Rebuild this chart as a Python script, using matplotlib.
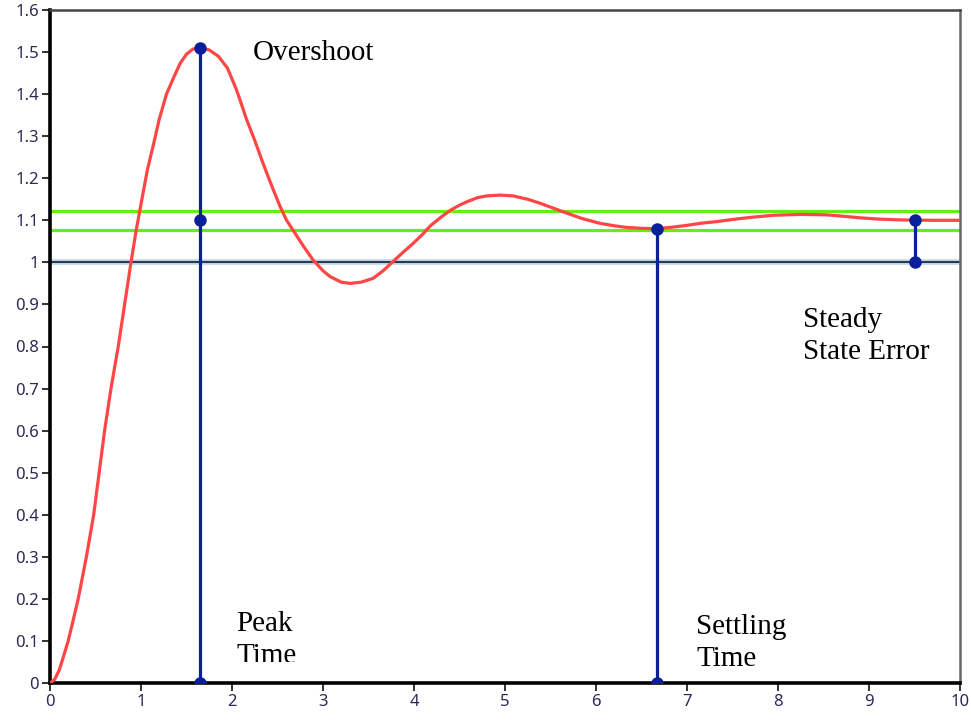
import matplotlib
matplotlib.use("Agg")
import matplotlib.pyplot as plt
from matplotlib.transforms import Bbox, TransformedBbox

# Step response samples
t_vals = [0, 0.05, 0.1, 0.13, 0.2, 0.25, 0.31, 0.4, 0.48, 0.54, 0.6, 0.67, 0.75,
          0.82, 0.89, 0.95, 1.01, 1.07, 1.14, 1.2, 1.28, 1.36, 1.43, 1.5, 1.57,
          1.65, 1.75, 1.85, 1.95, 2.05, 2.16, 2.25, 2.34, 2.44, 2.53, 2.6, 2.67,
          2.78, 2.89, 3.0, 3.08, 3.2, 3.3, 3.42, 3.55, 3.66, 3.77, 3.88, 3.99,
          4.1, 4.18, 4.3, 4.4, 4.5, 4.58, 4.7, 4.8, 4.95, 5.09, 5.25, 5.38, 5.53,
          5.68, 5.85, 6.04, 6.2, 6.34, 6.5, 6.67, 6.85, 7.0, 7.15, 7.33, 7.5,
          7.7, 7.95, 8.25, 8.53, 8.7, 8.9, 9.1, 9.34, 9.7, 10]
y_vals = [0, 0.008, 0.03, 0.05, 0.1, 0.145, 0.2, 0.3, 0.4, 0.5, 0.6, 0.7, 0.8,
          0.9, 1.0, 1.08, 1.15, 1.22, 1.283, 1.34, 1.40, 1.44, 1.473, 1.495, 1.507,
          1.51, 1.505, 1.49, 1.462, 1.41, 1.34, 1.29, 1.236, 1.18, 1.132, 1.10, 1.077,
          1.04, 1.006, 0.98, 0.966, 0.953, 0.95, 0.953, 0.962, 0.98, 1.002, 1.024, 1.045,
          1.068, 1.087, 1.108, 1.124, 1.136, 1.144, 1.154, 1.158, 1.16, 1.158, 1.15,
          1.141, 1.129, 1.117, 1.104, 1.093, 1.087, 1.083, 1.081, 1.08, 1.084, 1.088,
          1.093, 1.097, 1.102, 1.107, 1.112, 1.114, 1.113, 1.110, 1.106, 1.103, 1.101,
          1.1, 1.1]

reference = 1.0
steady_value = 1.1
band_upper = 1.122
band_lower = 1.078

peak_time = 1.65
peak_value = 1.51
settling_time = 6.67
settling_value = 1.08
sse_time = 9.5

x_ticks = list(range(0, 11))
y_ticks = [round(0.1 * i, 1) for i in range(0, 17)]
y_tick_labels = ["0" if v == 0 else ("1" if v == 1 else f"{v:g}") for v in y_ticks]

navy = "#0a1f9c"
red = "#ff4646"
green = "#66ee11"

fig = plt.figure(figsize=(9.71, 7.22), dpi=100)
ax = fig.add_axes([50 / 971, 39 / 722, 910 / 971, 673 / 722])
ax.set_xlim(0, 10)
ax.set_ylim(0, 1.6)

# reference line at 1
ax.axhline(reference, color="#bcd4ea", lw=4.0, zorder=2)
ax.axhline(reference, color="#2a3540", lw=1.4, zorder=2.1)

# tolerance band
ax.axhline(band_upper, color=green, lw=2.3, zorder=2.2)
ax.axhline(band_lower, color=green, lw=2.3, zorder=2.2)

# response curve
ax.plot(t_vals, y_vals, color=red, lw=2.3, zorder=3, solid_joinstyle="round",
        solid_capstyle="round")

# markers / measurement lines
ms = 8
ax.plot([peak_time, peak_time], [0, peak_value], color=navy, lw=2.3, zorder=4)
ax.plot([peak_time] * 3, [0, steady_value, peak_value], "o", color=navy, ms=ms, zorder=5)
ax.plot([settling_time, settling_time], [0, settling_value], color=navy, lw=2.3, zorder=4)
ax.plot([settling_time] * 2, [0, settling_value], "o", color=navy, ms=ms, zorder=5)
ax.plot([sse_time, sse_time], [reference, steady_value], color=navy, lw=2.3, zorder=4)
ax.plot([sse_time] * 2, [reference, steady_value], "o", color=navy, ms=ms, zorder=5)

# annotations
tf = dict(family="Liberation Serif", fontsize=21, color="black", zorder=6)
ax.text(2.23, 1.498, "Overshoot", ha="left", va="center", **tf)
peak_txt = ax.text(2.05, 0.171, "Peak\nTime", ha="left", va="top",
                   linespacing=1.32, **tf)
clip = TransformedBbox(Bbox.from_extents(0, 0.05, 10, 1.6), ax.transData)
peak_txt.set_clip_box(clip)
peak_txt.set_clip_on(True)
ax.text(7.1, 0.164, "Settling\nTime", ha="left", va="top", linespacing=1.28, **tf)
ax.text(8.28, 0.894, "Steady\nState Error", ha="left", va="top", linespacing=1.3, **tf)

# ticks and spines
ax.set_xticks(x_ticks)
ax.set_xticklabels([str(v) for v in x_ticks])
ax.set_yticks(y_ticks)
ax.set_yticklabels(y_tick_labels)
ax.tick_params(direction="out", length=6, width=1.3, color="#222222",
               labelsize=12, labelcolor="#2a2a55", pad=2)
for lab in ax.get_xticklabels() + ax.get_yticklabels():
    lab.set_family("Noto Sans")

ax.spines["left"].set_linewidth(2.6)
ax.spines["bottom"].set_linewidth(2.6)
ax.spines["left"].set_color("black")
ax.spines["bottom"].set_color("black")
ax.spines["top"].set_linewidth(1.8)
ax.spines["top"].set_color("#444444")
ax.spines["right"].set_linewidth(1.8)
ax.spines["right"].set_color("#666666")

fig.savefig("out.png", dpi=100, facecolor="white")
